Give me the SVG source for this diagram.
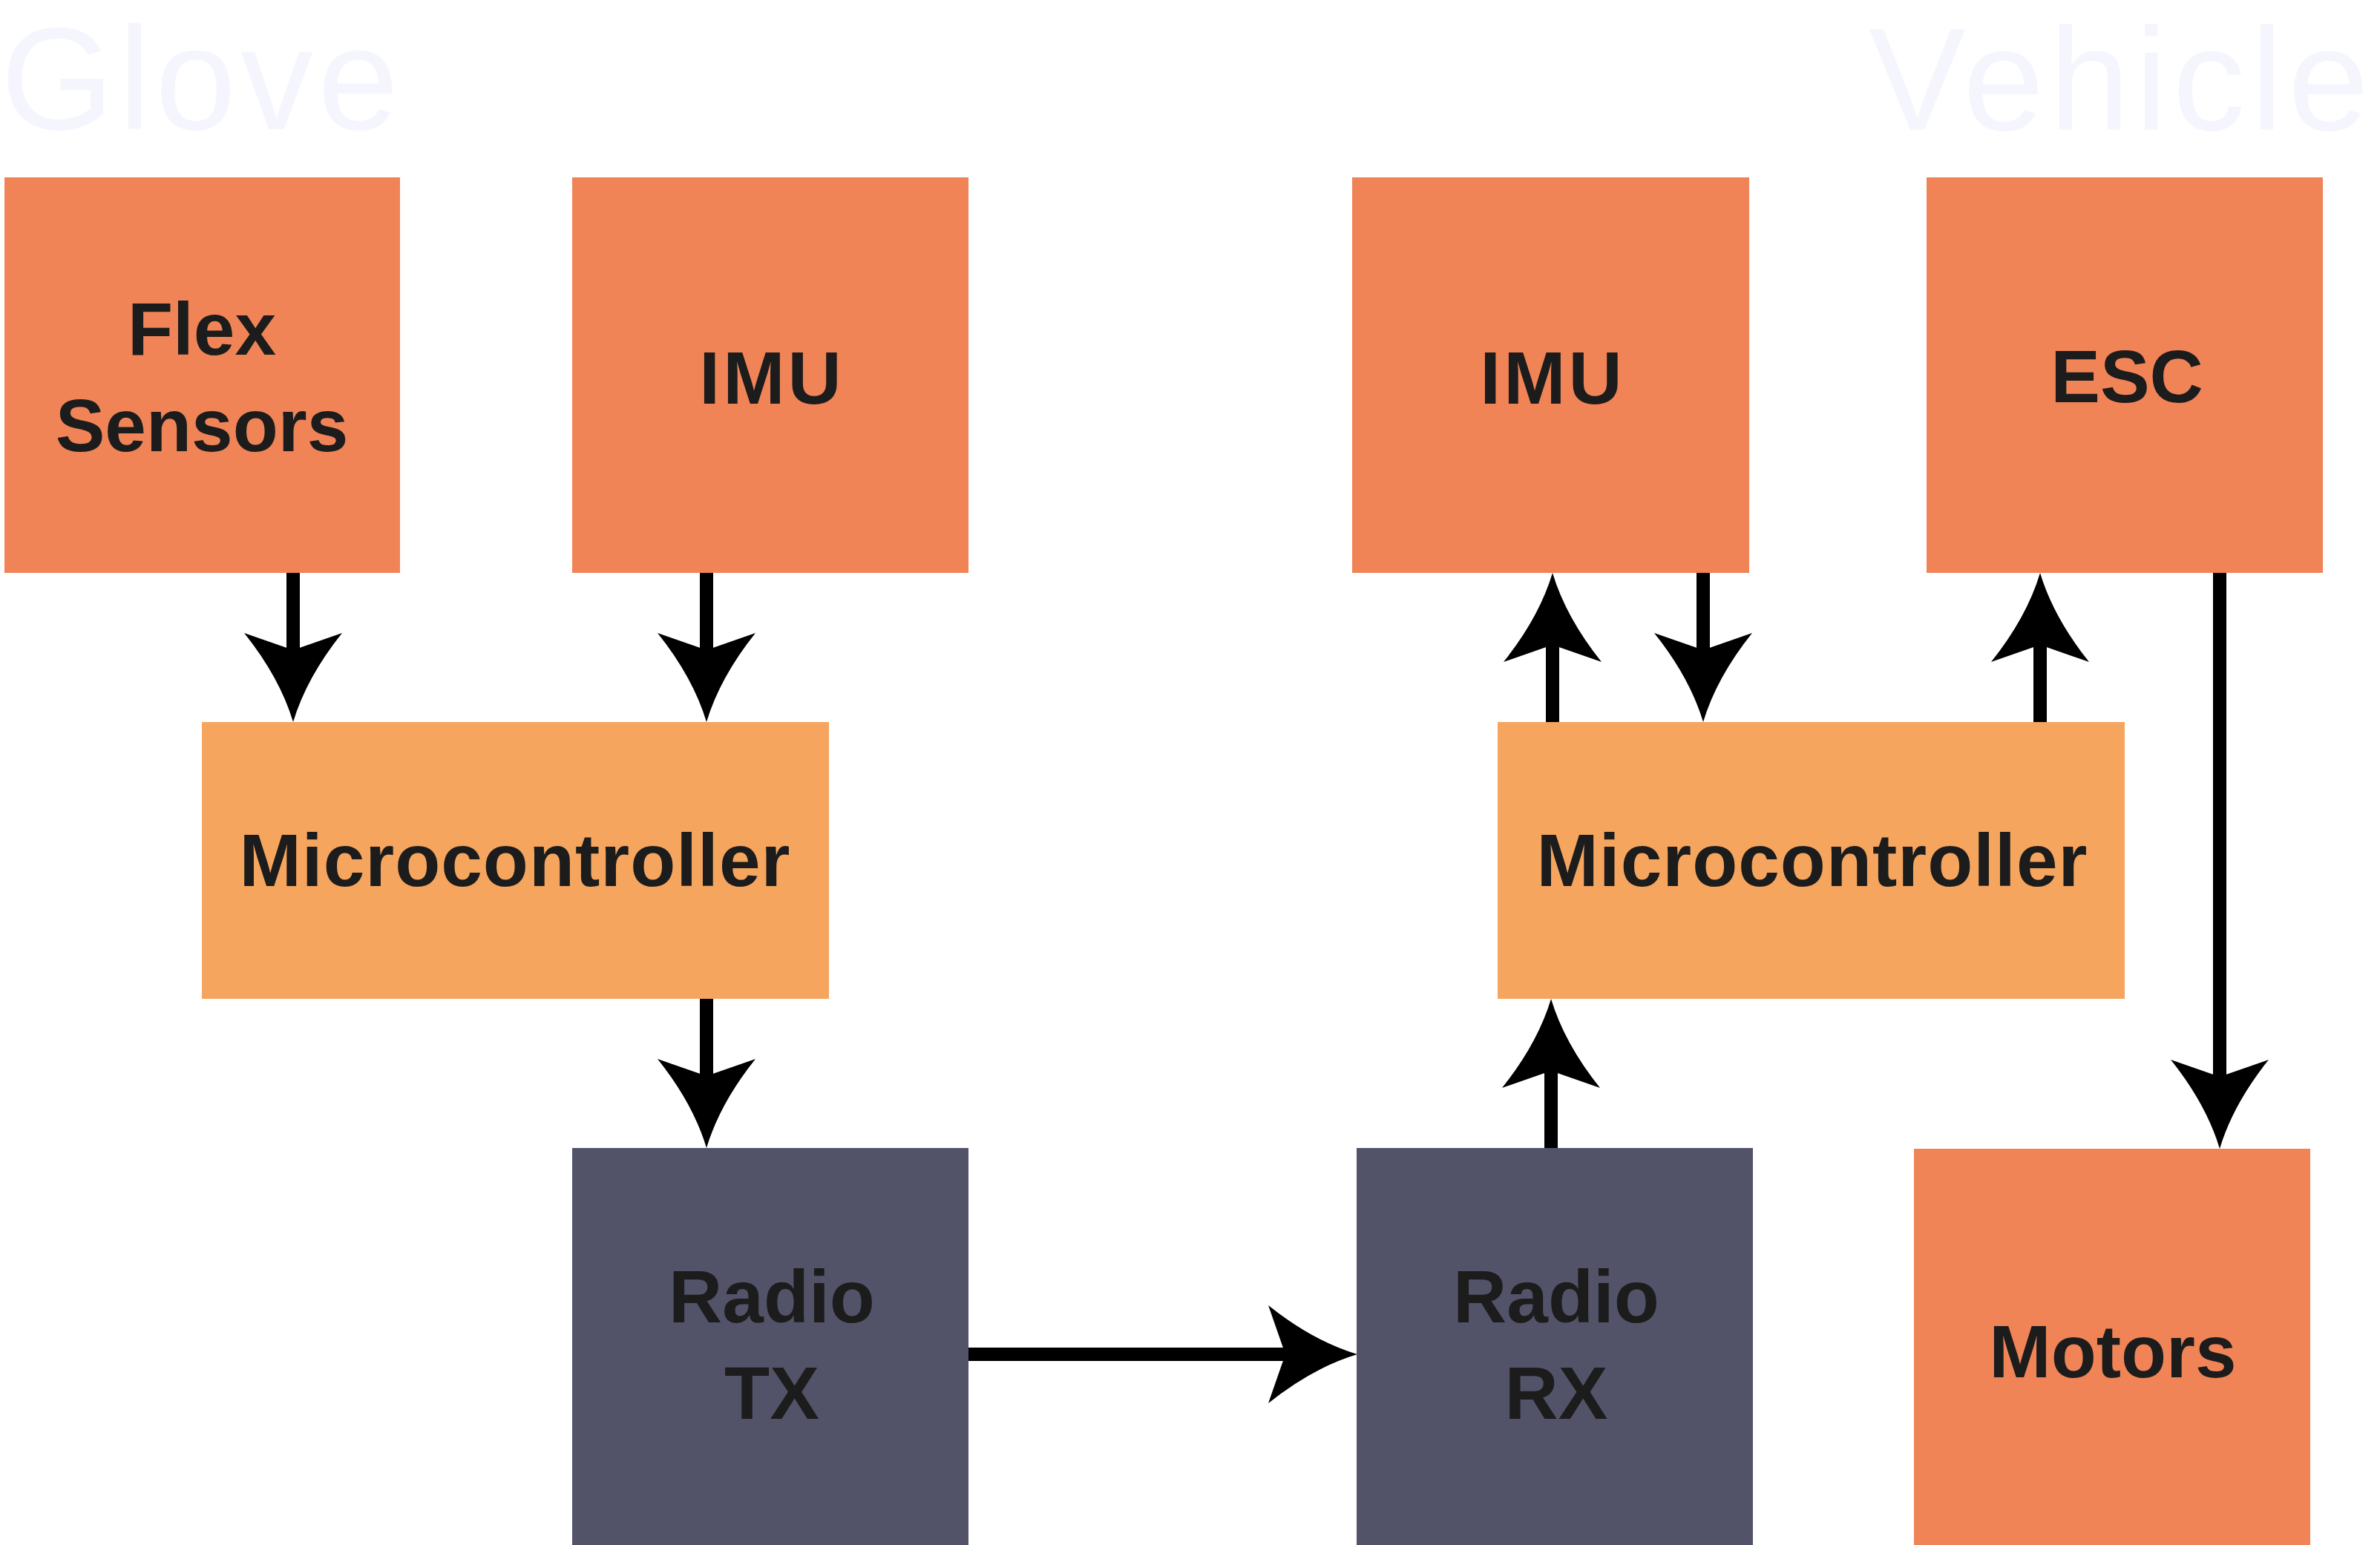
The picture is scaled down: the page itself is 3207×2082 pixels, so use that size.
<svg xmlns="http://www.w3.org/2000/svg" width="3207" height="2082" viewBox="0 0 3207 2082">
<style>
.title{font-family:"Liberation Sans",Arial,sans-serif;font-size:196px;fill:#F5F6FD}
.lbl{font-family:"Liberation Sans",Arial,sans-serif;font-weight:bold;font-size:100px;fill:#1C1C1C;text-anchor:middle}
.per{fill:#F08456}
.mcu{fill:#F6A55E}
.rad{fill:#525369}
.con{stroke:#000;stroke-width:18;fill:none;marker-end:url(#ah)}
</style>
<defs>
<marker id="ah" markerUnits="userSpaceOnUse" viewBox="-125 -70 130 140" refX="-97" refY="0" markerWidth="130" markerHeight="140" orient="auto">
<path d="M0,0 Q-60,-18 -120,-66 L-97,0 L-120,66 Q-60,18 0,0 Z" fill="#000"/>
</marker>
</defs>
<rect width="3207" height="2082" fill="#fff"/>
<text class="title" x="1" y="174" letter-spacing="6">Glove</text>
<text class="title" x="2518" y="175" letter-spacing="7">Vehicle</text>
<g id="connectors">
<line class="con" x1="395" y1="772" x2="395" y2="876"/>
<line class="con" x1="952" y1="772" x2="952" y2="876"/>
<line class="con" x1="952" y1="1346" x2="952" y2="1450"/>
<line class="con" x1="1305" y1="1825" x2="1732" y2="1825"/>
<line class="con" x1="2090" y1="1547" x2="2090" y2="1443"/>
<line class="con" x1="2092" y1="973" x2="2092" y2="869"/>
<line class="con" x1="2295" y1="772" x2="2295" y2="876"/>
<line class="con" x1="2749" y1="973" x2="2749" y2="869"/>
<line class="con" x1="2991" y1="772" x2="2991" y2="1451"/>
</g>
<g id="flex-sensors">
<rect class="per" x="6" y="239" width="533" height="533"/>
<text class="lbl" x="272" y="478">Flex</text>
<text class="lbl" x="272" y="608">Sensors</text>
</g>
<g id="imu-glove">
<rect class="per" x="771" y="239" width="534" height="533"/>
<text class="lbl" x="1040" y="544" letter-spacing="4">IMU</text>
</g>
<g id="mcu-glove">
<rect class="mcu" x="272" y="973" width="845" height="373"/>
<text class="lbl" x="694" y="1194" letter-spacing="1">Microcontroller</text>
</g>
<g id="radio-tx">
<rect class="rad" x="771" y="1547" width="534" height="535"/>
<text class="lbl" x="1040" y="1782">Radio</text>
<text class="lbl" x="1040" y="1912">TX</text>
</g>
<g id="radio-rx">
<rect class="rad" x="1828" y="1547" width="534" height="535"/>
<text class="lbl" x="2097" y="1782">Radio</text>
<text class="lbl" x="2097" y="1912">RX</text>
</g>
<g id="imu-vehicle">
<rect class="per" x="1822" y="239" width="535" height="533"/>
<text class="lbl" x="2092" y="544" letter-spacing="4">IMU</text>
</g>
<g id="esc">
<rect class="per" x="2596" y="239" width="534" height="533"/>
<text class="lbl" x="2866" y="542">ESC</text>
</g>
<g id="mcu-vehicle">
<rect class="mcu" x="2018" y="973" width="845" height="373"/>
<text class="lbl" x="2442" y="1194" letter-spacing="1">Microcontroller</text>
</g>
<g id="motors">
<rect class="per" x="2579" y="1548" width="534" height="534"/>
<text class="lbl" x="2847" y="1856">Motors</text>
</g>
</svg>
